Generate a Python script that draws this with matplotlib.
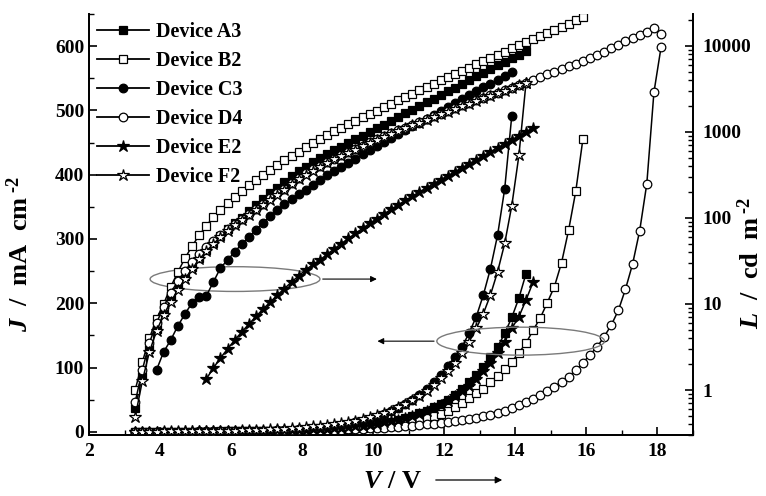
import matplotlib
matplotlib.use('Agg')
import matplotlib.pyplot as plt
from matplotlib.lines import Line2D
from matplotlib.patches import Ellipse, FancyArrowPatch
from matplotlib.ticker import MultipleLocator, FixedLocator, LogLocator, NullFormatter

plt.rcParams['font.family'] = ['Liberation Serif', 'DejaVu Serif']
plt.rcParams['font.weight'] = 'bold'
plt.rcParams['mathtext.fontset'] = 'custom'
plt.rcParams['mathtext.rm'] = 'Liberation Serif:bold'
plt.rcParams['mathtext.it'] = 'Liberation Serif:italic:bold'
plt.rcParams['mathtext.bf'] = 'Liberation Serif:bold'

# ---------------- data ----------------
V_SWEEP = [3.3, 3.5, 3.7, 3.9, 4.1, 4.3, 4.5, 4.7, 4.9, 5.1, 5.3, 5.5, 5.7, 5.9, 6.1,
           6.3, 6.5, 6.7, 6.9, 7.1, 7.3, 7.5, 7.7, 7.9, 8.1, 8.3, 8.5, 8.7, 8.9, 9.1,
           9.3, 9.5, 9.7, 9.9, 10.1, 10.3, 10.5, 10.7, 10.9, 11.1, 11.3, 11.5, 11.7, 11.9, 12.1,
           12.3, 12.5, 12.7, 12.9, 13.1, 13.3, 13.5, 13.7, 13.9, 14.1, 14.3, 14.5, 14.7, 14.9, 15.1,
           15.3, 15.5, 15.7, 15.9, 16.1, 16.3, 16.5, 16.7, 16.9, 17.1, 17.3, 17.5, 17.7, 17.9, 18.1]

devices = ['Device A3', 'Device B2', 'Device C3', 'Device D4', 'Device E2', 'Device F2']

# current density J (mA cm^-2), all sweeps start at 3.3 V
J_A3 = [0.05, 0.05, 0.1, 0.1, 0.1, 0.15, 0.15, 0.2, 0.2, 0.25, 0.3, 0.35, 0.4, 0.45, 0.5,
        0.6, 0.7, 0.8, 0.95, 1.1, 1.3, 1.5, 1.8, 2.1, 2.5, 2.9, 3.4, 4.0, 4.6, 5.3,
        6.2, 7.2, 8.4, 9.8, 11.4, 13.3, 15.5, 18, 21, 24.5, 28.5, 33, 38, 43.5, 50,
        58, 67, 77, 88, 101, 116, 132, 153, 178, 208, 246]
J_B2 = [0.05, 0.05, 0.1, 0.1, 0.15, 0.15, 0.2, 0.2, 0.25, 0.3, 0.35, 0.4, 0.45, 0.5, 0.6,
        0.7, 0.8, 0.9, 1.0, 1.1, 1.3, 1.5, 1.7, 1.9, 2.2, 2.5, 2.9, 3.3, 3.8, 4.4,
        5.0, 5.7, 6.5, 7.4, 8.5, 9.7, 11.1, 12.7, 14.5, 16.5, 19, 21.5, 24.5, 28, 32,
        38, 45, 53, 60, 67, 78, 87, 97, 109, 123, 138, 158, 177, 201, 226,
        263, 314, 374, 455]
J_C3 = [0.1, 0.1, 0.15, 0.2, 0.2, 0.25, 0.3, 0.35, 0.4, 0.45, 0.5, 0.6, 0.7, 0.8, 0.9,
        1.0, 1.2, 1.4, 1.6, 1.9, 2.2, 2.6, 3.1, 3.7, 4.4, 5.2, 6.2, 7.4, 8.8, 10.4,
        12.3, 14.5, 17, 20, 23.5, 27.5, 32, 37, 43, 50, 58, 67, 77, 88, 102,
        117, 132, 154, 179, 213, 254, 306, 378, 492]
J_D4 = [0.05, 0.05, 0.1, 0.1, 0.15, 0.15, 0.2, 0.2, 0.25, 0.3, 0.35, 0.4, 0.45, 0.5, 0.55,
        0.6, 0.7, 0.8, 0.9, 1.0, 1.15, 1.3, 1.5, 1.7, 1.9, 2.1, 2.4, 2.7, 3.0, 3.4,
        3.8, 4.2, 4.7, 5.2, 5.8, 6.4, 7.1, 7.8, 8.6, 9.5, 10.4, 11.4, 12.5, 13.7, 15,
        16.5, 18, 20, 22, 24, 26, 29, 33, 37, 42, 46, 51, 57, 64, 70,
        78, 86, 96, 107, 120, 132, 148, 166, 189, 222, 261, 313, 386, 528, 598]
J_E2 = [0.1, 0.15, 0.2, 0.25, 0.3, 0.35, 0.4, 0.45, 0.5, 0.6, 0.65, 0.75, 0.85, 0.95, 1.05,
        1.2, 1.35, 1.5, 1.7, 1.9, 2.1, 2.4, 2.7, 3.0, 3.4, 3.9, 4.4, 5.0, 5.7, 6.5,
        7.4, 8.5, 9.7, 11.1, 12.7, 14.5, 16.5, 19, 21.5, 24.5, 28, 32, 37, 42, 48,
        55, 63, 72, 82, 94, 107, 122, 140, 161, 179, 205, 233]
J_F2 = [0.1, 0.2, 0.3, 0.4, 0.5, 0.6, 0.7, 0.8, 0.9, 1.0, 1.1, 1.3, 1.5, 1.7, 1.9,
        2.2, 2.5, 2.9, 3.3, 3.8, 4.3, 4.9, 5.6, 6.4, 7.3, 8.3, 9.4, 10.6, 12, 13.7,
        15.5, 17.5, 20, 22.5, 25.5, 29, 33, 38, 43, 49, 56, 64, 73, 83, 94,
        107, 122, 140, 161, 184, 213, 249, 293, 352, 430, 543]

# luminance L (cd m^-2)
L_A3_START = 3.3
L_A3 = [0.618, 1.46, 3.0, 5.12, 8.07, 11.7, 16.2, 21.2, 26.9, 33.8, 41.9, 51.2, 61.8, 73.5, 86.3,
        101, 119, 140, 164, 193, 226, 262, 304, 347, 392, 442, 492, 547, 609, 673,
        743, 820, 906, 1000, 1104, 1219, 1346, 1486, 1641, 1812, 2000, 2208, 2438, 2692, 2972,
        3281, 3623, 4000, 4416, 4876, 5383, 5943, 6546, 7211, 7900, 8630]
L_B2_START = 3.3
L_B2 = [1.0, 2.1, 4.0, 6.7, 10, 15.8, 23.5, 34, 47, 63, 81, 103, 124, 149, 175,
        206, 242, 277, 316, 361, 413, 472, 526, 585, 661, 735, 818, 911, 1014, 1113,
        1222, 1343, 1474, 1620, 1774, 1942, 2128, 2330, 2553, 2787, 3048, 3327, 3631, 3970, 4335,
        4723, 5150, 5610, 6110, 6655, 7250, 7900, 8610, 9380, 10190, 11070, 12030, 13070, 14200, 15420,
        16760, 18200, 19800, 21500]
L_C3_START = 3.9
L_C3 = [1.71, 2.77, 3.81, 5.55, 7.65, 10.3, 12.1, 12.4, 18.0, 26.2, 32.5, 40.3, 49.9, 60.1, 72.5,
        87.5, 105, 124, 144, 164, 188, 214, 244, 277, 313, 352, 394, 440, 491, 547,
        609, 678, 755, 840, 935, 1041, 1159, 1286, 1429, 1585, 1759, 1954, 2168, 2406, 2670,
        2965, 3290, 3652, 4055, 4500, 4990]
L_D4_START = 3.3
L_D4 = [0.725, 1.71, 3.52, 6.01, 9.23, 13.4, 18.5, 24.2, 30.8, 38.1, 45.4, 54.0, 63.4, 73.5, 84.0,
        97.3, 111, 127, 146, 169, 193, 220, 252, 292, 329, 366, 405, 446, 490, 536,
        585, 638, 695, 755, 820, 889, 963, 1041, 1125, 1216, 1310, 1413, 1523, 1637, 1759,
        1891, 2033, 2180, 2337, 2506, 2685, 2872, 3070, 3281, 3509, 3752, 4035, 4337, 4664, 5012,
        5385, 5790, 6225, 6695, 7213, 7800, 8510, 9355, 10280, 11280, 12390, 13430, 14630, 15970, 13800]
L_E2_START = 5.3
L_E2 = [1.34, 1.80, 2.36, 3.0, 3.81, 4.72, 5.85, 7.16, 8.75, 10.5, 12.7, 15.1, 18.0, 21.2, 24.9,
        28.8, 32.5, 37.8, 43.6, 50.3, 57.8, 66.2, 75.7, 86.3, 98.2, 111, 126, 142, 160, 179,
        201, 224, 250, 278, 310, 345, 384, 427, 475, 529, 589, 655, 729, 811, 903,
        1005, 1119]
L_F2_START = 3.3
L_F2 = [0.485, 1.27, 2.77, 4.85, 7.45, 10.6, 14.5, 19.5, 25.5, 33, 41, 50, 60, 71, 82,
        95, 109, 124, 142, 163, 187, 213, 245, 282, 318, 355, 395, 436, 480, 525,
        573, 625, 680, 740, 805, 872, 945, 1022, 1105, 1192, 1285, 1385, 1490, 1605, 1725,
        1855, 1995, 2140, 2295, 2460, 2640, 2830, 3030, 3245, 3475, 3720]

J_DATA = [J_A3, J_B2, J_C3, J_D4, J_E2, J_F2]
L_DATA = [L_A3, L_B2, L_C3, L_D4, L_E2, L_F2]
L_STARTS = [L_A3_START, L_B2_START, L_C3_START, L_D4_START, L_E2_START, L_F2_START]

x_ticks = [2, 4, 6, 8, 10, 12, 14, 16, 18]
j_ticks = [0, 100, 200, 300, 400, 500, 600]
l_ticks = [1, 10, 100, 1000, 10000]
l_tick_labels = ['1', '10', '100', '1000', '10000']

# ---------------- styles ----------------
MARKERS = ['s', 's', 'o', 'o', '*', '*']
FACES = ['black', 'white', 'black', 'white', 'black', 'white']
SIZES = [5.8, 5.8, 6.2, 6.2, 8.8, 8.8]

W, H = 766, 496
fig = plt.figure(figsize=(W / 100, H / 100), dpi=100)
ax = fig.add_axes([89 / W, (H - 435) / H, (693 - 89) / W, (435 - 14) / H])
ax2 = ax.twinx()

for i in range(len(devices)):
    vj = V_SWEEP[:len(J_DATA[i])]
    ax.plot(vj, J_DATA[i], color='black', lw=1.1, marker=MARKERS[i], ms=SIZES[i],
            mfc=FACES[i], mec='black', mew=0.9, zorder=3)
    s = V_SWEEP.index(L_STARTS[i])
    vl = V_SWEEP[s:s + len(L_DATA[i])]
    ax2.plot(vl, L_DATA[i], color='black', lw=1.1, marker=MARKERS[i], ms=SIZES[i],
             mfc=FACES[i], mec='black', mew=0.9, zorder=3)

# axes ranges & ticks
ax.set_xlim(2, 19)
ax.set_ylim(-5, 650)
ax.set_xticks(x_ticks)
ax.xaxis.set_minor_locator(MultipleLocator(1))
ax.set_yticks(j_ticks)
ax.yaxis.set_minor_locator(MultipleLocator(50))

ax2.set_yscale('log')
ax2.set_ylim(0.3, 23500)
ax2.yaxis.set_major_locator(FixedLocator(l_ticks))
ax2.set_yticklabels(l_tick_labels)
ax2.yaxis.set_minor_locator(LogLocator(base=10, subs=[2, 3, 4, 5, 6, 7, 8, 9]))
ax2.yaxis.set_minor_formatter(NullFormatter())

for a in (ax, ax2):
    a.spines['top'].set_visible(False)
    for sp in a.spines.values():
        sp.set_linewidth(1.3)

ax.tick_params(axis='both', which='major', direction='in', length=6, width=1.2,
               labelsize=14, top=False, right=False)
ax.tick_params(axis='both', which='minor', direction='in', length=3.5, width=1.0,
               top=False, right=False)
ax.tick_params(axis='x', pad=6)
ax.tick_params(axis='y', pad=3.5)
ax2.tick_params(axis='y', which='major', direction='in', length=6, width=1.2,
                labelsize=14, pad=6.5)
ax2.tick_params(axis='y', which='minor', direction='in', length=3.5, width=1.0)
for lab in ax.get_xticklabels() + ax.get_yticklabels() + ax2.get_yticklabels():
    lab.set_fontweight('bold')

# axis labels
ax.set_ylabel(r'$\it{J}$  /  mA  cm$^{\;\text{-2}}$', fontsize=19, fontweight='bold')
ax.yaxis.set_label_coords(-0.093, 0.43)
ax2.set_ylabel(r'$\it{L}$  /  cd  m$^{\;\text{-2}}$', fontsize=19, fontweight='bold')
ax2.yaxis.set_label_coords(1.073, 0.41)

fig.text(392 / W, 1 - 482 / H, r'$\it{V}$ / V', ha='center', va='center',
         fontsize=19, fontweight='bold')
fig.add_artist(FancyArrowPatch(
    (433 / W, 1 - 480 / H), (505 / W, 1 - 480 / H), transform=fig.transFigure,
    arrowstyle='-|>', mutation_scale=10, color='black', lw=0.9))

# annotation ellipses / arrows
ax.add_patch(Ellipse((6.11, 237.6), 4.78, 38.5, fill=False, ec='#7a7a7a', lw=1.0, zorder=4))
ax.annotate('', xy=(10.18, 237.6), xytext=(8.5, 237.6),
            arrowprops=dict(arrowstyle='-|>', color='black', lw=0.8, mutation_scale=9))
ax.add_patch(Ellipse((14.15, 141), 4.72, 43.5, fill=False, ec='#7a7a7a', lw=1.0, zorder=4))
ax.annotate('', xy=(10.04, 141), xytext=(11.79, 141),
            arrowprops=dict(arrowstyle='-|>', color='black', lw=0.8, mutation_scale=9))

# legend
handles = [Line2D([], [], color='black', lw=1.3, marker=MARKERS[i], ms=SIZES[i],
                  mfc=FACES[i], mec='black', mew=0.9) for i in range(len(devices))]
leg = ax.legend(handles, devices, loc='upper left', bbox_to_anchor=(0, 1.0),
                frameon=False, handlelength=2.6, handletextpad=0.35,
                labelspacing=0.45, borderpad=0.1, borderaxespad=0.3, numpoints=1,
                prop={'weight': 'bold', 'size': 14.5})

fig.savefig('out.png', dpi=100)
